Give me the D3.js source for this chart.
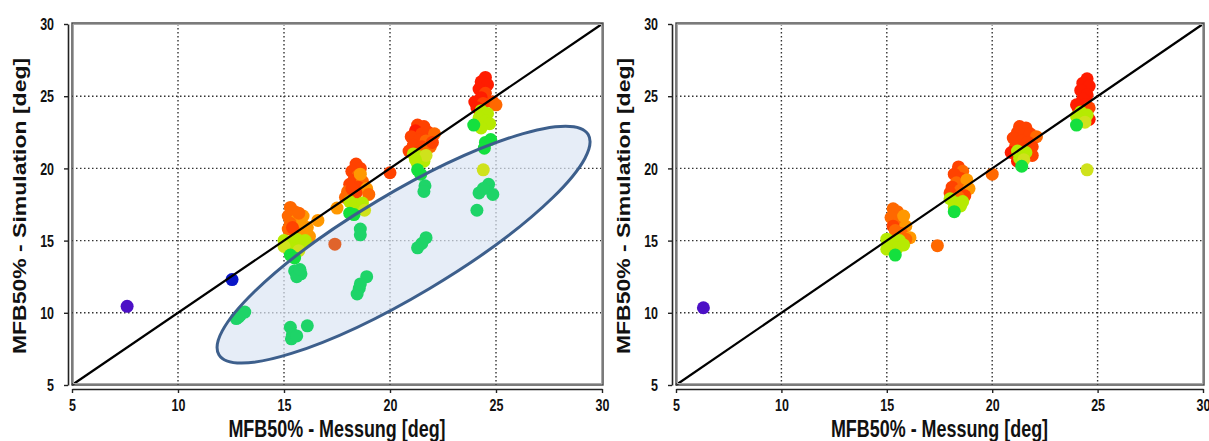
<!DOCTYPE html>
<html>
<head>
<meta charset="utf-8">
<script src="https://cdn.jsdelivr.net/npm/d3@7"></script>
<style>
  body { margin: 0; background: #fff; }
  text { font-family: Arial, "Liberation Sans", sans-serif; font-weight: bold; fill: #111; }
</style>
</head>
<body>
<svg id="chart" width="1209" height="441"></svg>
<script>
// ---- data -------------------------------------------------------------
// each point: [measured, simulated, colour key]
let tickValues = [5, 10, 15, 20, 25, 30];
let xTitle = 'MFB50% - Messung [deg]';
let yTitle = 'MFB50% - Simulation [deg]';

let colours = {
	P: '#4c10c6',  // purple
	B: '#0a16c8',  // blue
	G: '#1ed468',  // green
	g: '#14e03e',  // bright green
	Y: '#b6ea02',  // yellow-green
	y: '#cfe21c',  // yellowish
	O: '#ff9800',  // orange
	o: '#ff6800',  // dark orange
	R: '#ff4200',  // red-orange
	r: '#ff1c00',  // red
	d: '#e0642c'   // brownish orange
};

let leftPoints = [
	[7.6, 10.45, 'P'], [12.55, 12.3, 'B'],
	[12.75, 9.6, 'G'], [12.95, 9.85, 'G'], [13.15, 10.05, 'G'], [12.85, 9.7, 'G'],
	// 15.5
	[15.3, 17.3, 'o'], [15.5, 17.0, 'o'], [15.2, 16.7, 'o'], [15.6, 16.4, 'O'], [15.3, 16.2, 'o'],
	[15.8, 16.0, 'O'], [15.2, 15.8, 'o'], [15.5, 15.6, 'o'], [16.0, 15.5, 'O'], [15.9, 16.7, 'O'],
	[16.1, 15.9, 'O'], [15.4, 15.9, 'R'], [15.7, 16.9, 'o'],
	[16.6, 16.4, 'O'], [17.5, 17.25, 'O'], [16.2, 15.3, 'O'],
	[15.0, 15.0, 'Y'], [15.3, 14.8, 'Y'], [15.6, 15.1, 'Y'], [15.2, 14.5, 'Y'], [15.8, 14.7, 'Y'],
	[15.5, 14.4, 'Y'], [15.0, 14.6, 'y'], [16.0, 15.0, 'Y'], [15.7, 14.3, 'y'],
	[15.3, 14.0, 'g'], [15.5, 13.8, 'g'],
	[15.5, 12.9, 'G'], [15.8, 12.7, 'G'], [15.6, 12.5, 'G'], [15.75, 13.0, 'G'],
	[15.3, 9.0, 'G'], [15.4, 8.5, 'G'], [15.35, 8.2, 'G'], [15.6, 8.4, 'G'], [16.1, 9.1, 'G'],
	// 18.5
	[18.4, 20.3, 'R'], [18.6, 20.0, 'R'], [18.2, 19.8, 'R'], [18.5, 19.5, 'o'], [18.3, 19.2, 'R'],
	[18.7, 19.1, 'o'], [18.1, 18.9, 'R'], [18.5, 18.7, 'R'], [18.9, 18.6, 'O'], [18.0, 18.4, 'o'],
	[18.4, 18.3, 'R'], [19.0, 18.2, 'o'], [17.9, 18.0, 'o'], [18.6, 19.6, 'O'], [18.2, 18.6, 'R'],
	[18.1, 17.7, 'Y'], [18.4, 17.5, 'Y'], [18.7, 17.6, 'Y'], [18.3, 17.2, 'Y'], [18.8, 17.1, 'y'],
	[18.1, 16.9, 'g'], [18.3, 16.8, 'g'],
	[18.6, 15.8, 'G'], [18.6, 15.4, 'G'], [18.9, 12.5, 'G'], [18.55, 11.7, 'G'], [18.45, 11.3, 'G'], [18.6, 12.0, 'G'],
	[17.4, 14.75, 'd'], [20.0, 19.7, 'R'],
	// 21.5
	[21.3, 23.0, 'R'], [21.6, 22.9, 'R'], [21.2, 22.6, 'r'], [21.5, 22.4, 'R'], [21.8, 22.5, 'R'],
	[22.1, 22.4, 'o'], [21.0, 22.2, 'R'], [21.4, 22.0, 'R'], [21.7, 21.9, 'o'], [21.1, 21.6, 'R'],
	[21.5, 21.5, 'R'], [21.9, 21.5, 'o'], [20.9, 21.2, 'R'], [21.6, 21.1, 'o'], [22.0, 21.8, 'R'],
	[21.1, 21.0, 'Y'], [21.4, 20.8, 'Y'], [21.6, 20.5, 'Y'], [21.3, 20.3, 'Y'], [21.7, 20.9, 'y'], [21.2, 20.6, 'Y'],
	[21.3, 19.9, 'g'], [21.45, 19.6, 'g'],
	[21.65, 18.8, 'G'], [21.6, 18.4, 'G'], [21.7, 15.2, 'G'], [21.5, 14.8, 'G'], [21.3, 14.5, 'G'],
	// 24.4
	[24.5, 26.3, 'r'], [24.3, 26.0, 'r'], [24.6, 25.8, 'r'], [24.2, 25.5, 'r'], [24.5, 25.2, 'R'],
	[24.3, 24.9, 'r'], [24.0, 24.6, 'r'], [24.4, 24.5, 'R'], [24.85, 24.6, 'R'], [25.0, 24.4, 'o'], [24.1, 24.2, 'r'],
	[24.3, 24.0, 'Y'], [24.6, 23.8, 'Y'], [24.2, 23.5, 'Y'], [24.5, 23.3, 'Y'], [24.7, 23.1, 'Y'], [24.3, 22.8, 'Y'],
	[23.95, 23.0, 'g'], [24.5, 21.8, 'g'], [24.45, 21.4, 'g'], [24.75, 22.0, 'g'],
	[24.4, 19.9, 'y'],
	[24.65, 18.9, 'G'], [24.2, 18.3, 'G'], [24.85, 18.2, 'G'], [24.1, 17.1, 'G'], [24.4, 18.6, 'G']
];

let rightPoints = [
	[6.3, 10.35, 'P'],
	// 15.5
	[15.3, 17.2, 'o'], [15.5, 17.0, 'o'], [15.2, 16.6, 'o'], [15.6, 16.3, 'o'], [15.3, 16.0, 'R'],
	[15.8, 16.7, 'O'], [15.9, 16.0, 'O'], [15.4, 15.7, 'o'], [15.7, 15.5, 'o'],
	[16.1, 15.2, 'O'], [15.9, 15.1, 'o'], [17.4, 14.65, 'o'],
	[15.0, 15.1, 'Y'], [15.3, 14.9, 'Y'], [15.6, 15.0, 'Y'], [15.1, 14.6, 'Y'], [15.5, 14.5, 'Y'],
	[15.8, 14.7, 'Y'], [15.0, 14.4, 'Y'],
	[15.4, 14.0, 'g'],
	// 18.4
	[18.4, 20.1, 'R'], [18.6, 19.8, 'o'], [18.2, 19.6, 'R'], [18.5, 19.3, 'R'], [18.3, 19.0, 'o'],
	[18.8, 19.2, 'O'], [18.1, 18.7, 'R'], [18.5, 18.5, 'o'], [18.9, 18.6, 'O'], [18.0, 18.3, 'R'],
	[18.7, 18.1, 'R'], [18.4, 18.0, 'o'],
	[18.0, 17.9, 'Y'], [18.3, 17.6, 'Y'], [18.6, 17.7, 'Y'], [18.2, 17.3, 'Y'], [18.5, 17.4, 'Y'],
	[18.2, 17.0, 'g'], [20.0, 19.6, 'o'],
	// 21.4
	[21.3, 22.9, 'R'], [21.6, 22.8, 'R'], [21.2, 22.5, 'R'], [21.5, 22.3, 'R'], [21.8, 22.4, 'R'],
	[22.1, 22.2, 'o'], [21.0, 22.1, 'R'], [21.4, 21.9, 'R'], [21.7, 21.8, 'R'], [21.1, 21.5, 'R'],
	[21.5, 21.4, 'R'], [21.9, 21.5, 'R'], [20.9, 21.1, 'r'], [21.2, 20.5, 'r'], [21.9, 20.9, 'R'],
	[21.2, 21.2, 'Y'], [21.4, 20.9, 'Y'], [21.6, 21.1, 'Y'], [21.3, 20.7, 'Y'], [21.5, 20.6, 'y'],
	[21.4, 20.15, 'g'],
	// 24.4
	[24.5, 26.2, 'r'], [24.3, 25.9, 'r'], [24.6, 25.7, 'r'], [24.2, 25.4, 'r'], [24.5, 25.1, 'r'],
	[24.3, 24.8, 'r'], [24.0, 24.4, 'r'], [24.4, 24.4, 'r'], [24.6, 24.2, 'R'], [24.1, 24.1, 'r'], [24.6, 23.4, 'r'],
	[24.2, 23.9, 'Y'], [24.5, 23.7, 'Y'], [24.3, 23.4, 'Y'], [24.0, 23.6, 'Y'], [24.4, 23.2, 'y'],
	[24.0, 23.0, 'g'], [24.5, 19.9, 'y']
];

// highlighted region (left panel): centre and half axes in data units along x / y
let ellipseCentre = [20.64, 14.72];
let ellipseAxes = [10.14, 3.53];
let ellipseTilt = -30.8;

/////// DRAW ///////////////////////////////////////

let svg = d3.select('#chart');
let squish = 0.78;  // the source picture is horizontally compressed

let drawPanel = function(points, left, right, withEllipse) {
	let x = d3.scaleLinear().domain([5, 30]).range([left, right]);
	let y = d3.scaleLinear().domain([5, 30]).range([385, 24]);
	let g = svg.append('g');

	// grid
	let inner = tickValues.slice(1, -1);
	g.selectAll('.vgrid').data(inner).enter().append('line')
		.attr('x1', d => x(d)).attr('x2', d => x(d))
		.attr('y1', y(30)).attr('y2', y(5))
		.attr('stroke', '#333').attr('stroke-width', 1.4).attr('stroke-dasharray', '1.5,2.5');
	g.selectAll('.hgrid').data(inner).enter().append('line')
		.attr('x1', x(5)).attr('x2', x(30))
		.attr('y1', d => y(d)).attr('y2', d => y(d))
		.attr('stroke', '#333').attr('stroke-width', 1.4).attr('stroke-dasharray', '1.5,2.5');

	let ell = null;
	if (withEllipse) {
		let cx = x(ellipseCentre[0]), cy = y(ellipseCentre[1]);
		let rx = x(ellipseCentre[0] + ellipseAxes[0]) - cx;
		let ry = y(ellipseCentre[1]) - y(ellipseCentre[1] + ellipseAxes[1]);
		ell = { cx: cx, cy: cy, rx: rx, ry: ry };
		g.append('ellipse')
			.attr('transform', `translate(${cx},${cy}) rotate(${ellipseTilt})`)
			.attr('rx', rx).attr('ry', ry)
			.attr('fill', '#dbe6f4').attr('fill-opacity', 0.7);
	}

	g.selectAll('.pt').data(points).enter().append('circle')
		.attr('cx', d => x(d[0]))
		.attr('cy', d => y(d[1]))
		.attr('r', 6.5)
		.attr('fill', d => colours[d[2]]);

	if (ell) {
		g.append('ellipse')
			.attr('transform', `translate(${ell.cx},${ell.cy}) rotate(${ellipseTilt})`)
			.attr('rx', ell.rx).attr('ry', ell.ry)
			.attr('fill', 'none').attr('stroke', '#3d5f8c').attr('stroke-width', 3);
	}

	// y = x
	g.append('line')
		.attr('x1', x(5)).attr('y1', y(5)).attr('x2', x(30)).attr('y2', y(30))
		.attr('stroke', '#000').attr('stroke-width', 2.2);

	// frame
	g.append('rect')
		.attr('x', left).attr('y', 23).attr('width', right - left + 1).attr('height', 362)
		.attr('fill', 'none').attr('stroke', '#444').attr('stroke-width', 1.4);
	g.append('rect')
		.attr('x', left + 1.5).attr('y', 24.5).attr('width', right - left - 2).attr('height', 359)
		.attr('fill', 'none').attr('stroke', '#aaa').attr('stroke-width', 1);

	// axes
	let ax = g.append('g').attr('transform', `translate(${left - 4},0)`)
		.call(d3.axisLeft(y).tickValues(tickValues).tickSize(4).tickSizeOuter(0));
	let bx = g.append('g').attr('transform', `translate(0,389)`)
		.call(d3.axisBottom(x).tickValues(tickValues).tickSize(4).tickSizeOuter(0));
	[ax, bx].forEach(a => {
		a.select('.domain').attr('stroke', '#222').attr('stroke-width', 1.6);
		a.selectAll('.tick line').attr('stroke', '#222').attr('stroke-width', 1.4);
		a.selectAll('text').style('font-size', '16px').attr('fill', '#111');
	});
	ax.selectAll('text').attr('x', null).attr('dy', '0.36em')
		.attr('transform', `translate(-14,0) scale(${squish},1)`);
	bx.selectAll('text').attr('y', null).attr('dy', null)
		.attr('transform', `translate(0,22) scale(${squish},1)`);

	// titles
	g.append('text')
		.attr('transform', `translate(${(left + right) / 2},437) scale(${squish},1)`)
		.attr('text-anchor', 'middle')
		.style('font-size', '23px')
		.text(xTitle);
	g.append('text')
		.attr('transform', `translate(${left - 46},206) scale(${squish},1) rotate(-90)`)
		.attr('text-anchor', 'middle')
		.style('font-size', '23px')
		.text(yTitle);
};

drawPanel(leftPoints, 72, 602, true);
drawPanel(rightPoints, 676, 1203, false);
</script>
</body>
</html>
